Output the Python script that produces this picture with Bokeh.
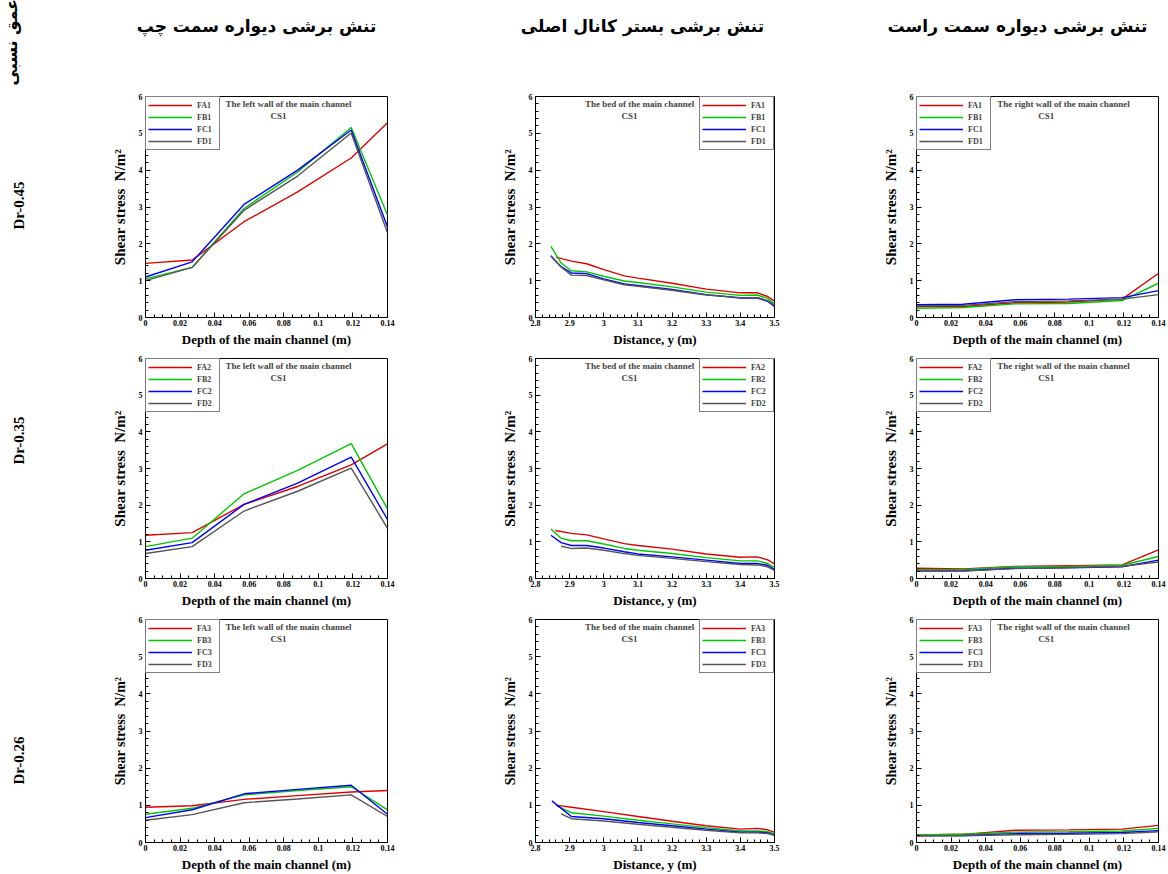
import math
from bokeh.plotting import figure
from bokeh.layouts import row, column
from bokeh.models import Range1d, SingleIntervalTicker, CustomJSTickFormatter, Label
from bokeh.embed import file_html
from bokeh.resources import INLINE
from bokeh.core.properties import value

# ---------------- data ----------------
column_titles = ["تنش برشی دیواره سمت چپ", "تنش برشی بستر کانال اصلی", "تنش برشی دیواره سمت راست"]
side_title = "عمق نسبی"
row_labels = ["Dr-0.45", "Dr-0.35", "Dr-0.26"]
series_prefix = ["FA", "FB", "FC", "FD"]
series_colors = ["#e00000", "#00c800", "#0000ff", "#555555"]

wall_x = [0, 0.027, 0.057, 0.088, 0.119, 0.14]

# left wall (rows Dr-0.45, Dr-0.35, Dr-0.26), order FA, FB, FC, FD
left_045 = [[1.47, 1.56, 2.60, 3.41, 4.33, 5.29],
            [1.05, 1.36, 2.96, 3.95, 5.16, 2.78],
            [1.10, 1.51, 3.07, 4.00, 5.09, 2.46],
            [1.00, 1.36, 2.91, 3.84, 5.01, 2.30]]
left_035 = [[1.18, 1.25, 2.02, 2.51, 3.10, 3.67],
            [0.87, 1.10, 2.31, 2.95, 3.68, 1.90],
            [0.77, 0.98, 2.02, 2.60, 3.31, 1.61],
            [0.68, 0.87, 1.84, 2.38, 3.01, 1.37]]
left_026 = [[0.95, 0.99, 1.16, 1.26, 1.36, 1.40],
            [0.76, 0.92, 1.28, 1.40, 1.50, 0.88],
            [0.67, 0.88, 1.31, 1.43, 1.54, 0.76],
            [0.60, 0.75, 1.07, 1.17, 1.28, 0.70]]

# right wall
right_045 = [[0.30, 0.30, 0.40, 0.42, 0.50, 1.20],
             [0.25, 0.27, 0.37, 0.38, 0.46, 0.93],
             [0.35, 0.36, 0.48, 0.50, 0.54, 0.73],
             [0.32, 0.33, 0.43, 0.45, 0.50, 0.62]]
right_035 = [[0.28, 0.26, 0.33, 0.35, 0.37, 0.78],
             [0.24, 0.25, 0.32, 0.33, 0.36, 0.60],
             [0.20, 0.21, 0.28, 0.29, 0.32, 0.50],
             [0.20, 0.20, 0.27, 0.30, 0.33, 0.45]]
right_026 = [[0.20, 0.22, 0.33, 0.34, 0.36, 0.46],
             [0.20, 0.22, 0.28, 0.29, 0.31, 0.38],
             [0.18, 0.19, 0.24, 0.25, 0.27, 0.32],
             [0.18, 0.18, 0.21, 0.22, 0.24, 0.29]]

# bed of the main channel: distance y (m)
bed_x_tail = [2.905, 2.95, 3.0, 3.06, 3.1, 3.2, 3.3, 3.4, 3.45, 3.48, 3.5]
bed_x_tail3 = [2.905, 3.0, 3.1, 3.2, 3.3, 3.4, 3.45, 3.48, 3.5]

bed_045_x = [[2.86] + bed_x_tail,
             [2.845, 2.875] + bed_x_tail,
             [2.845, 2.875] + bed_x_tail,
             [2.845, 2.875] + bed_x_tail]
bed_045 = [[1.64, 1.53, 1.46, 1.30, 1.13, 1.07, 0.93, 0.77, 0.67, 0.67, 0.57, 0.45],
           [1.93, 1.48, 1.27, 1.24, 1.12, 0.99, 0.95, 0.83, 0.69, 0.60, 0.61, 0.52, 0.38],
           [1.68, 1.38, 1.21, 1.19, 1.05, 0.91, 0.87, 0.76, 0.62, 0.53, 0.53, 0.44, 0.30],
           [1.66, 1.37, 1.15, 1.14, 1.02, 0.89, 0.85, 0.74, 0.61, 0.54, 0.54, 0.46, 0.34]]

bed_035_x = [[2.858] + bed_x_tail,
             [2.845, 2.875] + bed_x_tail,
             [2.845, 2.875] + bed_x_tail,
             [2.875] + bed_x_tail]
bed_035 = [[1.31, 1.23, 1.19, 1.08, 0.95, 0.90, 0.80, 0.67, 0.58, 0.59, 0.51, 0.40],
           [1.35, 1.10, 1.03, 1.03, 0.94, 0.82, 0.77, 0.68, 0.57, 0.48, 0.48, 0.41, 0.30],
           [1.18, 0.98, 0.90, 0.90, 0.83, 0.73, 0.67, 0.59, 0.50, 0.41, 0.41, 0.36, 0.25],
           [0.88, 0.82, 0.83, 0.77, 0.68, 0.63, 0.55, 0.46, 0.38, 0.37, 0.32, 0.22]]

bed_026_x = [[2.865] + bed_x_tail3,
             [2.86] + bed_x_tail3,
             [2.848] + bed_x_tail3,
             [2.875] + bed_x_tail3]
bed_026 = [[1.00, 0.95, 0.83, 0.70, 0.57, 0.45, 0.36, 0.38, 0.34, 0.28],
           [1.00, 0.80, 0.71, 0.60, 0.50, 0.40, 0.31, 0.31, 0.29, 0.24],
           [1.12, 0.70, 0.64, 0.54, 0.45, 0.36, 0.28, 0.28, 0.26, 0.20],
           [0.77, 0.64, 0.58, 0.49, 0.41, 0.33, 0.26, 0.26, 0.24, 0.19]]

panel_notes = ["The left wall of the main channel", "The bed of the main channel",
               "The right wall of the main channel"]
section_name = "CS1"
x_titles = ["Depth of the main channel (m)", "Distance, y (m)", "Depth of the main channel (m)"]
y_title = "Shear stress\u00a0\u00a0N/m\u00b2"

# ---------------- styling / layout ----------------
SERIF = "Liberation Serif"
PERSIAN = "DejaVu Sans"

col_geom = [  # width, border left, border right
    (332, 77, 13),
    (387, 135, 13),
    (381, 129, 10),
]
row_geom = [  # height, border top, border bottom, y-title size
    (262, 8, 33, "15px"),
    (261, 8, 33, "15px"),
    (263, 8, 27, "14px"),
]

fmt = CustomJSTickFormatter(code="return (Math.round(tick*1000)/1000).toString();")


def make_panel(ci, ri, xs_list, ys_list):
    w, bl, br = col_geom[ci]
    h, bt, bb, ysz = row_geom[ri]
    if ci == 1:
        xr = Range1d(2.8, 3.5)
        xtick = SingleIntervalTicker(interval=0.1, num_minor_ticks=5)
    else:
        xr = Range1d(0, 0.14)
        xtick = SingleIntervalTicker(interval=0.02, num_minor_ticks=4)
    p = figure(width=w, height=h, x_range=xr, y_range=Range1d(0, 6),
               min_border_left=bl, min_border_right=br, min_border_top=bt,
               min_border_bottom=bb, toolbar_location=None, output_backend="svg")
    p.xgrid.visible = False
    p.ygrid.visible = False
    p.outline_line_color = "black"
    p.outline_line_width = 1
    p.xaxis.ticker = xtick
    p.yaxis.ticker = SingleIntervalTicker(interval=1, num_minor_ticks=5)
    for ax in (p.xaxis[0], p.yaxis[0]):
        ax.formatter = fmt
        ax.major_tick_in = 5
        ax.major_tick_out = 0
        ax.minor_tick_in = 3
        ax.minor_tick_out = 0
        ax.axis_line_color = "black"
        ax.major_tick_line_color = "black"
        ax.minor_tick_line_color = "black"
        ax.major_label_text_font = SERIF
        ax.major_label_text_font_style = "bold"
        ax.major_label_text_font_size = "8px"
        ax.major_label_text_color = "black"
        ax.axis_label_text_font = SERIF
        ax.axis_label_text_font_style = "bold"
        ax.axis_label_text_color = "black"
    p.xaxis.major_label_standoff = 2
    p.xaxis.axis_label = x_titles[ci]
    p.xaxis.axis_label_text_font_size = "13px"
    p.xaxis.axis_label_standoff = 3
    p.yaxis.major_label_standoff = 3
    p.yaxis.axis_label = y_title
    p.yaxis.axis_label_text_font_size = ysz
    p.yaxis.axis_label_standoff = 8

    for k in range(4):
        p.line(xs_list[k], ys_list[k], line_color=series_colors[k], line_width=1.4,
               legend_label=f"{series_prefix[k]}{ri + 1}")

    lg = p.legend[0]
    lg.location = "top_right" if ci == 1 else "top_left"
    lg.margin = 0
    lg.padding = 2
    lg.spacing = 0
    lg.glyph_width = 44
    lg.glyph_height = 12
    lg.label_height = 12
    lg.label_standoff = 5
    lg.label_text_font = SERIF
    lg.label_text_font_style = "bold"
    lg.label_text_font_size = "8px"
    lg.label_text_line_height = 1.0
    lg.border_line_color = "black"
    lg.border_line_width = 1
    lg.background_fill_color = "white"
    lg.background_fill_alpha = 1.0

    # in-frame notes
    if ci == 1:
        nx, cx = 3.105, 3.075
    elif ci == 0:
        nx, cx = 0.0827, 0.077
    else:
        nx, cx = 0.085, 0.075
    p.add_layout(Label(x=nx, y=5.80, text=panel_notes[ci], text_font=SERIF,
                       text_font_style="bold", text_font_size="9px",
                       text_align="center", text_baseline="middle"))
    p.add_layout(Label(x=cx, y=5.47, text=section_name, text_font=SERIF,
                       text_font_style="bold", text_font_size="9px",
                       text_align="center", text_baseline="middle"))
    return p


left_sets = [left_045, left_035, left_026]
right_sets = [right_045, right_035, right_026]
bed_sets = [(bed_045_x, bed_045), (bed_035_x, bed_035), (bed_026_x, bed_026)]

cols = []
for ci in range(3):
    figs = []
    for ri in range(3):
        if ci == 0:
            figs.append(make_panel(ci, ri, [wall_x] * 4, left_sets[ri]))
        elif ci == 1:
            figs.append(make_panel(ci, ri, bed_sets[ri][0], bed_sets[ri][1]))
        else:
            figs.append(make_panel(ci, ri, [wall_x] * 4, right_sets[ri]))
    cols.append(column(*figs))

# header with column titles (page-pixel coordinates, y downward)
header = figure(width=1168, height=88, x_range=Range1d(0, 1168), y_range=Range1d(88, 0),
                min_border=0, toolbar_location=None, output_backend="svg",
                x_axis_location=None, y_axis_location=None)
header.outline_line_color = None
header.xgrid.visible = False
header.ygrid.visible = False
header.text(x=[256, 642, 1017], y=[25, 25, 25], text=column_titles,
            text_font=value(PERSIAN), text_font_style="bold", text_font_size="17px",
            text_align="center", text_baseline="middle", text_color="black")
header.text(x=[11], y=[85], text=[side_title], angle=math.pi / 2,
            text_font=value(PERSIAN), text_font_style="bold", text_font_size="16px",
            text_align="left", text_baseline="middle", text_color="black")

# left strip with row labels
strip = figure(width=68, height=786, x_range=Range1d(0, 68), y_range=Range1d(874, 88),
               min_border=0, toolbar_location=None, output_backend="svg",
               x_axis_location=None, y_axis_location=None)
strip.outline_line_color = None
strip.xgrid.visible = False
strip.ygrid.visible = False
strip.text(x=[18, 18, 18], y=[205, 440, 760], text=row_labels, angle=math.pi / 2,
           text_font=value(SERIF), text_font_style="bold", text_font_size="15px",
           text_align="center", text_baseline="middle", text_color="black")

layout = column(header, row(strip, *cols))

open("out.html", "w").write(file_html(layout, INLINE))
